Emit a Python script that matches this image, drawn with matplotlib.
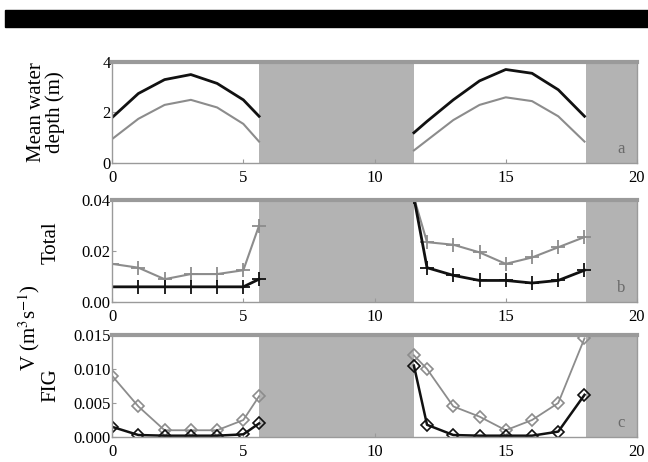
import matplotlib
matplotlib.use("Agg")
import matplotlib.pyplot as plt
from matplotlib.patches import Rectangle

plt.rcParams.update({
    "font.family": ["Liberation Serif", "DejaVu Serif"],
    "font.size": 12,
    "mathtext.fontset": "stix",
})

# dry periods (shaded)
DRY = [(5.6, 11.5), (18.05, 20.0)]

# two wet seasons, sampled by day
x1 = [0, 1, 2, 3, 4, 5, 5.6]
x2 = [11.5, 12, 13, 14, 15, 16, 17, 18]

# a: mean water depth (m)
depth_hi_1 = [1.8, 2.75, 3.3, 3.5, 3.15, 2.5, 1.85]
depth_hi_2 = [1.2, 1.65, 2.5, 3.25, 3.7, 3.55, 2.9, 1.85]
depth_lo_1 = [0.95, 1.75, 2.3, 2.5, 2.2, 1.55, 0.85]
depth_lo_2 = [0.5, 0.9, 1.7, 2.3, 2.6, 2.45, 1.85, 0.85]

# b: total V (m3 s-1)
tot_blk_1 = [0.006, 0.006, 0.006, 0.006, 0.006, 0.006, 0.009]
tot_blk_2 = [0.041, 0.0135, 0.0105, 0.0085, 0.0085, 0.0075, 0.0085, 0.0125]
tot_gry_1 = [0.015, 0.0135, 0.009, 0.011, 0.011, 0.0125, 0.03]
tot_gry_2 = [0.041, 0.0235, 0.0225, 0.0195, 0.015, 0.0175, 0.0215, 0.0255]

# c: FIG V (m3 s-1)
fig_blk_1 = [0.0015, 0.0003, 0.0002, 0.0002, 0.0002, 0.0004, 0.002]
fig_blk_2 = [0.0105, 0.0018, 0.0003, 0.0002, 0.0002, 0.0002, 0.0008, 0.0062]
fig_gry_1 = [0.009, 0.0045, 0.001, 0.001, 0.001, 0.0025, 0.006]
fig_gry_2 = [0.012, 0.01, 0.0045, 0.003, 0.001, 0.0025, 0.005, 0.0145]

BLACK = "#111111"
GRAY = "#8c8c8c"
SHADE = "#b3b3b3"
FRAME = "#9a9a9a"

fig = plt.figure(figsize=(6.48, 4.62), dpi=100)
fig.patches.append(Rectangle((0.008, 0.942), 0.992, 0.037, transform=fig.transFigure,
                             color="black", zorder=0))

ax_a = fig.add_axes([0.173, 0.647, 0.81, 0.219])
ax_b = fig.add_axes([0.173, 0.346, 0.81, 0.221])
ax_c = fig.add_axes([0.173, 0.054, 0.81, 0.221])


def style(ax, ylim, yticks, ylabels, letter):
    for lo, hi in DRY:
        ax.axvspan(lo, hi, color=SHADE, lw=0, zorder=0)
    ax.set_xlim(0, 20)
    ax.set_ylim(*ylim)
    ax.set_xticks([0, 5, 10, 15, 20])
    ax.set_yticks(yticks)
    ax.set_yticklabels(ylabels)
    for s in ax.spines.values():
        s.set_color(FRAME)
        s.set_linewidth(1.0)
    ax.spines["top"].set_linewidth(3)
    ax.tick_params(direction="in", length=3, color=FRAME, labelsize=12)
    ax.tick_params(axis="x", pad=5)
    ax.tick_params(axis="y", pad=1)
    ax.text(0.97, 0.06, letter, transform=ax.transAxes, fontsize=12,
            color="#6a6a6a", ha="center", va="bottom")


# panel a
ax_a.plot(x1, depth_hi_1, color=BLACK, lw=2)
ax_a.plot(x2, depth_hi_2, color=BLACK, lw=2)
ax_a.plot(x1, depth_lo_1, color=GRAY, lw=1.5)
ax_a.plot(x2, depth_lo_2, color=GRAY, lw=1.5)
style(ax_a, (0, 4), [0, 2, 4], ["0", "2", "4"], "a")

# panel b
mk = dict(marker="+", markersize=10, markeredgewidth=1.3)
ax_b.plot(x1, tot_gry_1, color=GRAY, lw=1.5, **mk)
ax_b.plot(x2, tot_gry_2, color=GRAY, lw=1.5, **mk)
ax_b.plot(x1, tot_blk_1, color=BLACK, lw=2, **mk)
ax_b.plot(x2, tot_blk_2, color=BLACK, lw=2, **mk)
style(ax_b, (0, 0.04), [0, 0.02, 0.04], ["0.00", "0.02", "0.04"], "b")

# panel c
dm = dict(marker="D", markersize=6, markerfacecolor="none", markeredgewidth=1.2)
ax_c.plot(x1, fig_gry_1, color=GRAY, lw=1.3, **dm)
ax_c.plot(x2, fig_gry_2, color=GRAY, lw=1.3, **dm)
ax_c.plot(x1, fig_blk_1, color=BLACK, lw=1.8, **dm)
ax_c.plot(x2, fig_blk_2, color=BLACK, lw=1.8, **dm)
style(ax_c, (0, 0.015), [0, 0.005, 0.010, 0.015],
      ["0.000", "0.005", "0.010", "0.015"], "c")

# y labels
fig.text(0.071, 0.757, "Mean water\ndepth (m)", rotation=90, fontsize=15,
         ha="center", va="center", linespacing=0.95)
fig.text(0.079, 0.475, "Total", rotation=90, fontsize=15, ha="center", va="center")
fig.text(0.079, 0.167, "FIG", rotation=90, fontsize=15, ha="center", va="center")
fig.text(0.045, 0.29, r"V (m$^3$s$^{-1}$)", rotation=90, fontsize=15,
         ha="center", va="center")

fig.savefig("out.png", dpi=100)
